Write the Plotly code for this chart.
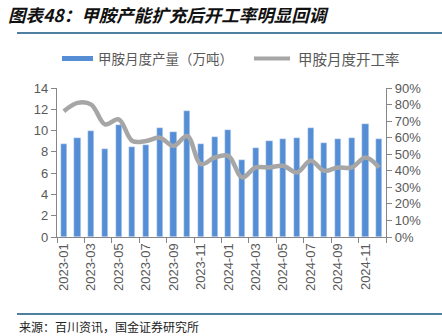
import plotly.graph_objects as go

# Monthly methylamine output (10k tonnes) and operating rate
months = ["2023-01", "2023-02", "2023-03", "2023-04", "2023-05", "2023-06",
          "2023-07", "2023-08", "2023-09", "2023-10", "2023-11", "2023-12",
          "2024-01", "2024-02", "2024-03", "2024-04", "2024-05", "2024-06",
          "2024-07", "2024-08", "2024-09", "2024-10", "2024-11", "2024-12"]
output = [8.7, 9.3, 10.0, 8.3, 10.5, 8.5, 8.6, 10.2, 9.9, 11.8, 8.7, 9.4,
          10.1, 7.2, 8.4, 9.0, 9.2, 9.3, 10.2, 8.8, 9.2, 9.3, 10.6, 9.2]
rate = [0.76, 0.81, 0.80, 0.68, 0.71, 0.58, 0.58, 0.60, 0.55, 0.61, 0.44, 0.48,
        0.49, 0.36, 0.42, 0.42, 0.43, 0.39, 0.46, 0.40, 0.42, 0.42, 0.48, 0.42]

bar_name = "甲胺月度产量（万吨）"
line_name = "甲胺月度开工率"
title = "图表48：甲胺产能扩充后开工率明显回调"
source = "来源：百川资讯，国金证券研究所"

W, H = 442, 336
L, R, T, B = 57, 386, 88, 237
BAR_C = "#558ED5"
LINE_C = "#A6A6A6"
AXIS_C = "#868686"
TEXT_C = "#595959"
CJK = "Noto Sans CJK SC"
LAT = "Liberation Sans, Arial, sans-serif"


def px(x):
    return (x - L) / (R - L)


def py(y):
    return (B - y) / (B - T)


idx = list(range(len(months)))
fig = go.Figure()
fig.add_trace(go.Bar(x=idx, y=output, name=bar_name, marker_color=BAR_C,
                     width=0.45, yaxis="y", xaxis="x"))
fig.add_trace(go.Scatter(x=idx, y=rate, name=line_name, mode="lines",
                         line=dict(color=LINE_C, width=4.5, shape="spline",
                                   smoothing=1.0),
                         yaxis="y2", xaxis="x"))
# invisible trace carrying the boundary tick axis
fig.add_trace(go.Scatter(x=[idx[0]], y=[0], mode="markers", opacity=0,
                         xaxis="x3", yaxis="y", showlegend=False,
                         hoverinfo="skip"))

xr = [-0.5, len(months) - 0.5]
fig.update_layout(
    width=W, height=H,
    margin=dict(l=L, r=W - R, t=T, b=H - B, pad=0),
    paper_bgcolor="white", plot_bgcolor="white",
    showlegend=False,
    bargap=0,
    xaxis=dict(range=xr, tickmode="array", tickvals=idx[::2],
               ticktext=months[::2], tickangle=-90, ticks="",
               showline=True, linecolor=AXIS_C, linewidth=1.3,
               showgrid=False, zeroline=False,
               tickfont=dict(family=LAT, size=13, color=TEXT_C)),
    xaxis3=dict(range=xr, overlaying="x", anchor="y", side="bottom",
                tickmode="array",
                tickvals=[i - 0.5 for i in range(0, len(months) + 1, 2)],
                ticks="outside", ticklen=5, tickwidth=1.3, tickcolor=AXIS_C,
                showticklabels=False, showline=False, showgrid=False,
                zeroline=False),
    yaxis=dict(range=[0, 14], dtick=2, tick0=0, ticks="outside", ticklen=5,
               tickwidth=1.3, tickcolor=AXIS_C, showline=True,
               linecolor=AXIS_C, linewidth=1.3, showgrid=False,
               zeroline=False,
               tickfont=dict(family=LAT, size=13, color=TEXT_C)),
    yaxis2=dict(range=[0, 0.9], dtick=0.1, tick0=0, tickformat=".0%",
                overlaying="y", side="right", ticks="outside", ticklen=5,
                tickwidth=1.3, tickcolor=AXIS_C, showline=True,
                linecolor=AXIS_C, linewidth=1.3, showgrid=False,
                zeroline=False,
                tickfont=dict(family=LAT, size=13, color=TEXT_C)),
)

# title and rules
fig.add_annotation(xref="paper", yref="paper", x=px(6), y=py(15),
                   xanchor="left", yanchor="middle", showarrow=False,
                   text=title,
                   font=dict(family=CJK, size=17.5, color="#111111",
                             style="italic", weight="bold"))
fig.add_shape(type="line", xref="paper", yref="paper",
              x0=px(17), x1=px(442), y0=py(33), y1=py(33),
              line=dict(color="#4F7F9F", width=2.2))
fig.add_shape(type="line", xref="paper", yref="paper",
              x0=px(17), x1=px(442), y0=py(314), y1=py(314),
              line=dict(color="#4F7F9F", width=2.2))
fig.add_annotation(xref="paper", yref="paper", x=px(17), y=py(326),
                   xanchor="left", yanchor="middle", showarrow=False,
                   text=source,
                   font=dict(family=CJK, size=12, color="#222222"))

# legend
fig.add_shape(type="rect", xref="paper", yref="paper",
              x0=px(62), x1=px(93), y0=py(61), y1=py(56),
              fillcolor=BAR_C, line=dict(width=0))
fig.add_annotation(xref="paper", yref="paper", x=px(96), y=py(58.5),
                   xanchor="left", yanchor="middle", showarrow=False,
                   text=bar_name,
                   font=dict(family=CJK, size=13.5, color=TEXT_C))
fig.add_shape(type="line", xref="paper", yref="paper",
              x0=px(254), x1=px(290), y0=py(58.5), y1=py(58.5),
              line=dict(color=LINE_C, width=4))
fig.add_annotation(xref="paper", yref="paper", x=px(296), y=py(58.5),
                   xanchor="left", yanchor="middle", showarrow=False,
                   text=line_name,
                   font=dict(family=CJK, size=14.5, color=TEXT_C))

fig.write_html("out.html")
